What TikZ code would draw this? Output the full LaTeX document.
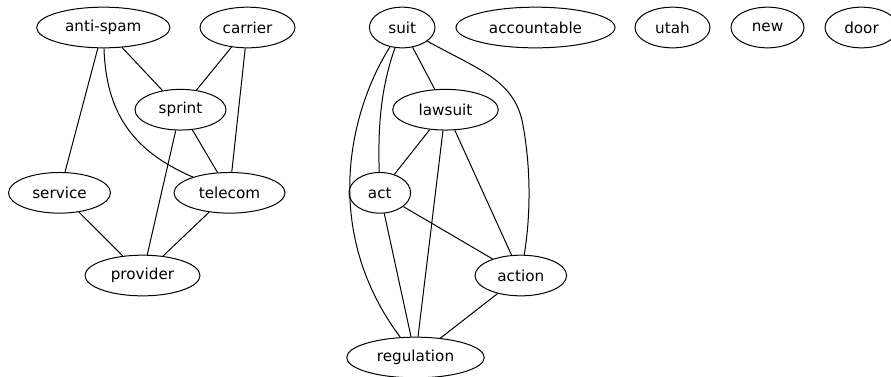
\documentclass[tikz,border=0pt]{standalone}
\usepackage{fontspec}
\setmainfont{DejaVu Sans}
\usetikzlibrary{shapes.geometric}
\begin{document}
\begin{tikzpicture}[x=0.75pt,y=-0.75pt,
  nd/.style={draw, ellipse, inner sep=0pt, minimum height=30.5pt, line width=0.75pt, font=\fontsize{11.4pt}{13pt}\selectfont},
  ed/.style={line width=0.75pt}]
\useasboundingbox (0,0) rectangle (891,376);
% left component
\node[nd, minimum width=100pt]  (antispam) at (103.3,27.5) {anti-spam};
\node[nd, minimum width=71.25pt] (carrier) at (247.5,27.5) {carrier};
\node[nd, minimum width=68.25pt] (sprint) at (180.5,109.7) {sprint};
\node[nd, minimum width=76.5pt] (service) at (59.5,192.8) {service};
\node[nd, minimum width=83.25pt] (telecom) at (229.5,192.8) {telecom};
\node[nd, minimum width=86.25pt] (provider) at (142.5,275.5) {provider};
% right component
\node[nd, minimum width=49.2pt] (suit) at (402.2,27.5) {suit};
\node[nd, minimum width=79.2pt] (lawsuit) at (445.5,109.7) {lawsuit};
\node[nd, minimum width=46.2pt] (act) at (379.8,192.8) {act};
\node[nd, minimum width=68.7pt] (action) at (520.8,275.5) {action};
\node[nd, minimum width=103.2pt] (regulation) at (415.5,357.5) {regulation};
% isolated
\node[nd, minimum width=119.25pt] (accountable) at (535.5,27.5) {accountable};
\node[nd, minimum width=56.25pt] (utah) at (672.5,27.5) {utah};
\node[nd, minimum width=54.75pt] (new) at (767.5,27.5) {new};
\node[nd, minimum width=54.75pt] (door) at (861.5,27.5) {door};
% edges left
\draw[ed] (antispam) -- (sprint);
\draw[ed] (antispam) -- (service);
\draw[ed] (antispam) .. controls (106,110) and (130,150) .. (telecom);
\draw[ed] (carrier) -- (sprint);
\draw[ed] (carrier) -- (telecom);
\draw[ed] (sprint) -- (telecom);
\draw[ed] (sprint) -- (provider);
\draw[ed] (service) -- (provider);
\draw[ed] (telecom) -- (provider);
% edges right
\draw[ed] (suit) -- (lawsuit);
\draw[ed] (suit) .. controls (380,90) and (378,130) .. (act);
\draw[ed] (suit) .. controls (350,110) and (320,230) .. (regulation);
\draw[ed] (suit) .. controls (480,70) and (512,80) .. (522,120) .. controls (532,170) and (530,220) .. (action);
\draw[ed] (lawsuit) -- (act);
\draw[ed] (lawsuit) -- (regulation);
\draw[ed] (lawsuit) -- (action);
\draw[ed] (act) -- (action);
\draw[ed] (act) -- (regulation);
\draw[ed] (action) -- (regulation);
\end{tikzpicture}
\end{document}
